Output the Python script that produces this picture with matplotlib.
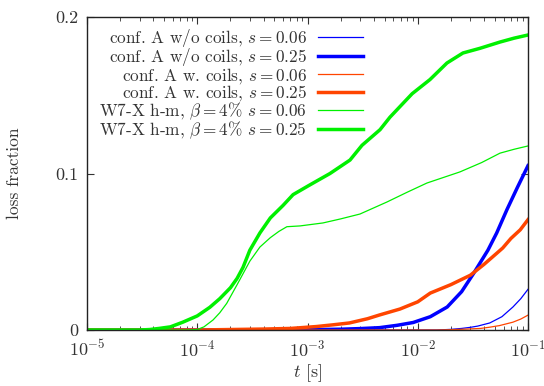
import numpy as np
import matplotlib
matplotlib.use("Agg")
import matplotlib.pyplot as plt
from matplotlib.ticker import LogLocator, NullFormatter, FixedLocator

plt.rcParams['font.family'] = 'serif'
plt.rcParams['font.serif'] = ['cmr10']
plt.rcParams['mathtext.fontset'] = 'cm'
plt.rcParams['axes.formatter.use_mathtext'] = True

# ---- data ----
# conf. A w/o coils, s=0.06
t_a006 = [1e-5, 1e-3, 1.5e-2, 2.0e-2, 2.5e-2, 3.0e-2, 3.5e-2, 4.5e-2, 5.8e-2, 7.3e-2, 8.6e-2, 1e-1]
f_a006 = [0, 0, 0, 0.0004, 0.001, 0.0017, 0.0025, 0.0045, 0.0085, 0.0147, 0.020, 0.026]
# conf. A w/o coils, s=0.25
t_a025 = [1e-5, 5e-4, 1e-3, 2e-3, 3e-3, 4.5e-3, 6.5e-3, 9.1e-3, 1.3e-2, 1.85e-2, 2.5e-2, 3.2e-2, 4.33e-2, 5.2e-2, 6.45e-2, 8.0e-2, 1e-1]
f_a025 = [0, 0, 0.0002, 0.0005, 0.0009, 0.0015, 0.003, 0.0048, 0.0085, 0.0147, 0.0245, 0.036, 0.051, 0.062, 0.077, 0.091, 0.105]
# conf. A w. coils, s=0.06
t_c006 = [1e-5, 1.5e-2, 2.0e-2, 2.8e-2, 3.7e-2, 4.5e-2, 5.5e-2, 7.3e-2, 8.6e-2, 1e-1]
f_c006 = [0, 0, 0.0002, 0.0006, 0.001, 0.0018, 0.0028, 0.005, 0.007, 0.0095]
# conf. A w. coils, s=0.25
t_c025 = [1e-5, 1e-4, 2e-4, 4e-4, 7e-4, 1.2e-3, 1.7e-3, 2.4e-3, 3.5e-3, 4.5e-3, 6.9e-3, 1.0e-2, 1.3e-2, 2.0e-2, 3.0e-2, 4.0e-2, 5.2e-2, 5.9e-2, 7.0e-2, 8.5e-2, 1e-1]
f_c025 = [0, 0, 0.0003, 0.0006, 0.001, 0.0022, 0.0033, 0.0045, 0.0072, 0.0096, 0.0134, 0.018, 0.0236, 0.029, 0.035, 0.042, 0.049, 0.0524, 0.0585, 0.064, 0.0705]
# W7-X h-m, beta=4% s=0.06
t_w006 = [1e-5, 8e-5, 1.0e-4, 1.15e-4, 1.39e-4, 1.6e-4, 1.85e-4, 2.3e-4, 3.0e-4, 3.7e-4, 4.6e-4, 5.5e-4, 6.5e-4, 8.55e-4, 1.38e-3, 2.0e-3, 2.99e-3, 5.26e-3, 8.0e-3, 1.21e-2, 2.41e-2, 3.8e-2, 5.57e-2, 7.5e-2, 1e-1]
f_w006 = [0, 0, 0.0003, 0.002, 0.0064, 0.011, 0.017, 0.029, 0.044, 0.053, 0.059, 0.063, 0.066, 0.0665, 0.0684, 0.071, 0.0741, 0.0818, 0.088, 0.0939, 0.101, 0.107, 0.113, 0.1155, 0.1176]
# W7-X h-m, beta=4% s=0.25
t_w025 = [1e-5, 3e-5, 3.7e-5, 4.5e-5, 5.7e-5, 6.5e-5, 7.4e-5, 1.0e-4, 1.3e-4, 1.6e-4, 2.0e-4, 2.3e-4, 2.6e-4, 3.0e-4, 3.7e-4, 4.6e-4, 6.0e-4, 7.4e-4, 1.05e-3, 1.6e-3, 2.43e-3, 3.12e-3, 4.55e-3, 5.6e-3, 8.9e-3, 1.29e-2, 1.84e-2, 2.57e-2, 3.67e-2, 5.57e-2, 7.5e-2, 1e-1]
f_w025 = [0, 0, 0.0003, 0.001, 0.002, 0.0035, 0.005, 0.009, 0.0145, 0.020, 0.027, 0.033, 0.040, 0.051, 0.062, 0.0716, 0.0796, 0.0865, 0.0927, 0.100, 0.1086, 0.118, 0.128, 0.136, 0.151, 0.160, 0.1706, 0.177, 0.180, 0.184, 0.1865, 0.1885]

labels = [r"conf. A w/o coils, $s = 0.06$",
          r"conf. A w/o coils, $s = 0.25$",
          r"conf. A w. coils, $s = 0.06$",
          r"conf. A w. coils, $s = 0.25$",
          r"W7-X h-m, $\beta = 4\%$ $s = 0.06$",
          r"W7-X h-m, $\beta = 4\%$ $s = 0.25$"]

fig = plt.figure(figsize=(5.44, 3.86), dpi=100)
ax = fig.add_axes([87/544, 56/386, 441/544, 313/386])

blue = '#0000ff'
orange = '#ff4500'
green = '#00f000'
series = [(t_a006, f_a006, blue, 0.9),
          (t_a025, f_a025, blue, 2.5),
          (t_c006, f_c006, orange, 0.9),
          (t_c025, f_c025, orange, 2.5),
          (t_w006, f_w006, green, 0.9),
          (t_w025, f_w025, green, 2.5)]
for (t, f, c, lw), lab in zip(series, labels):
    ax.plot(t, f, color=c, lw=lw, label=lab, solid_joinstyle='round')

ax.set_xscale('log')
ax.set_xlim(1e-5, 1e-1)
ax.set_ylim(0, 0.2)
ax.yaxis.set_major_locator(FixedLocator([0, 0.1, 0.2]))
ax.set_yticklabels(['0', '0.1', '0.2'])
ax.xaxis.set_major_locator(LogLocator(base=10, numticks=10))
ax.xaxis.set_minor_locator(LogLocator(base=10, subs=np.arange(2, 10), numticks=20))
ax.xaxis.set_minor_formatter(NullFormatter())
ax.tick_params(direction='in', top=True, right=True, which='both', colors='#333333', labelsize=13, pad=6)
ax.tick_params(which='major', length=5)
ax.tick_params(which='minor', length=3)
for sp in ax.spines.values():
    sp.set_color('#222222')
    sp.set_linewidth(1.0)

ax.set_xlabel(r"$t$ [s]", fontsize=13, color='#333333', labelpad=2)
ax.set_ylabel("loss fraction", fontsize=12.5, color='#333333', labelpad=24)

leg = ax.legend(loc='upper right', bbox_to_anchor=((363 - 87) / 441, (330 - 27) / 313),
                markerfirst=False, frameon=False, borderpad=0, borderaxespad=0,
                fontsize=12.4, handlelength=2.6, handletextpad=0.64, labelspacing=-0.15)
for txt in leg.get_texts():
    txt.set_color('#333333')

fig.savefig('out.png', dpi=100)
